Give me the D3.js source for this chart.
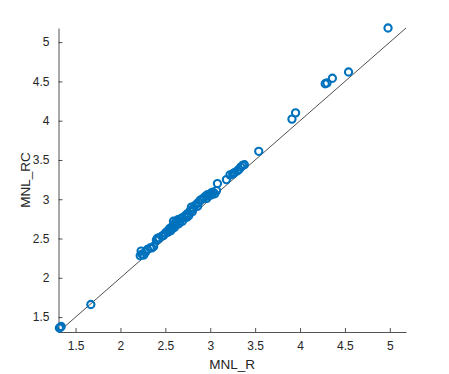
<!DOCTYPE html>
<html>
<head>
<meta charset="utf-8">
<script src="https://cdn.jsdelivr.net/npm/d3@7"></script>
<style>
  body { margin: 0; background: #fff; }
  svg { display: block; }
  text { font-family: "Liberation Sans", Arial, sans-serif; fill: #262626; }
</style>
</head>
<body>
<div id="chart"></div>
<script>
// values
var mnlR = [1.32, 1.33, 1.34, 1.67,
  2.22, 2.23, 2.24, 2.26, 2.28, 2.30, 2.33, 2.35, 2.37, 2.40, 2.41, 2.43,
  2.46, 2.48, 2.50, 2.52, 2.54, 2.55, 2.57, 2.58, 2.59, 2.60, 2.61, 2.63,
  2.64, 2.66, 2.68, 2.69, 2.71, 2.73, 2.75, 2.76, 2.78, 2.79, 2.81, 2.83,
  2.85, 2.87, 2.89, 2.91, 2.93, 2.95, 2.97, 2.99, 3.01, 3.03, 3.05, 3.07,
  3.08, 3.18, 3.22, 3.25, 3.27, 3.30, 3.32, 3.34, 3.36, 3.38,
  2.42, 2.53, 2.56, 2.62, 2.65, 2.74, 2.80, 2.86, 2.96, 3.00, 3.02, 3.26,
  3.54, 3.91, 3.95, 4.28, 4.30, 4.36, 4.54, 4.98];
var mnlRC = [1.36, 1.37, 1.38, 1.66,
  2.28, 2.34, 2.30, 2.29, 2.33, 2.36, 2.38, 2.38, 2.40, 2.48, 2.50, 2.51,
  2.53, 2.54, 2.57, 2.59, 2.61, 2.63, 2.62, 2.66, 2.72, 2.64, 2.70, 2.73,
  2.74, 2.71, 2.76, 2.72, 2.78, 2.80, 2.82, 2.79, 2.86, 2.90, 2.88, 2.92,
  2.94, 2.96, 2.99, 3.00, 3.02, 3.04, 3.06, 3.05, 3.08, 3.09, 3.07, 3.11,
  3.20, 3.25, 3.31, 3.32, 3.34, 3.36, 3.38, 3.41, 3.43, 3.44,
  2.49, 2.58, 2.60, 2.67, 2.69, 2.77, 2.84, 2.91, 3.01, 3.05, 3.06, 3.33,
  3.61, 4.02, 4.10, 4.47, 4.48, 4.54, 4.62, 5.18];
var xTicks = [1.5, 2, 2.5, 3, 3.5, 4, 4.5, 5];
var yTicks = [1.5, 2, 2.5, 3, 3.5, 4, 4.5, 5];
var lim = [1.31, 5.18];

var width = 449, height = 374;
var mLeft = 58.5, mRight = 406, mTop = 28, mBottom = 332;

var svg = d3.select("#chart").append("svg")
  .attr("width", width)
  .attr("height", height);

var x = d3.scaleLinear().domain(lim).range([mLeft, mRight]);
var y = d3.scaleLinear().domain(lim).range([mBottom, mTop]);

// x axis
var gx = svg.append("g").attr("transform", "translate(0," + mBottom + ")")
  .call(d3.axisBottom(x).tickValues(xTicks).tickSizeInner(-4).tickSizeOuter(0).tickPadding(9)
    .tickFormat(d3.format("")));
// y axis
var gy = svg.append("g").attr("transform", "translate(" + mLeft + ",0)")
  .call(d3.axisLeft(y).tickValues(yTicks).tickSizeInner(-4).tickSizeOuter(0).tickPadding(9)
    .tickFormat(d3.format("")));

[gx, gy].forEach(function(g){
  g.select(".domain").attr("stroke", "#262626").attr("stroke-width", 0.8);
  g.selectAll(".tick line").attr("stroke", "#262626").attr("stroke-width", 0.8);
  g.selectAll(".tick text").attr("fill", "#262626")
    .style("font-size", "12px")
    .style("font-family", "'Liberation Sans', Arial, sans-serif");
});

// reference line y = x
svg.append("line")
  .attr("x1", x(lim[0])).attr("y1", y(lim[0]))
  .attr("x2", x(lim[1])).attr("y2", y(lim[1]))
  .attr("stroke", "#222").attr("stroke-width", 0.8);

// points
svg.append("g").selectAll("circle")
  .data(mnlR)
  .enter().append("circle")
  .attr("cx", function(d){ return x(d); })
  .attr("cy", function(d, i){ return y(mnlRC[i]); })
  .attr("r", 3.6)
  .attr("fill", "none")
  .attr("stroke", "#0072BD")
  .attr("stroke-width", 2.1);

// axis labels
svg.append("text")
  .attr("x", (mLeft + mRight) / 2).attr("y", 369)
  .attr("text-anchor", "middle")
  .style("font-size", "13.5px")
  .text("MNL_R");

svg.append("text")
  .attr("transform", "translate(30," + ((mTop + mBottom) / 2) + ") rotate(-90)")
  .attr("text-anchor", "middle")
  .style("font-size", "13.5px")
  .text("MNL_RC");
</script>
</body>
</html>
